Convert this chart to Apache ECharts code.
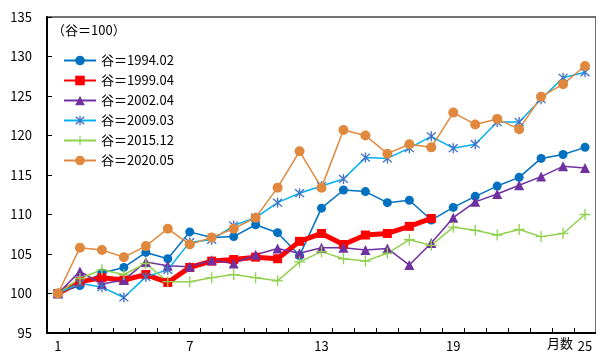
<!DOCTYPE html>
<html>
<head>
<meta charset="utf-8">
<script src="https://cdn.jsdelivr.net/npm/echarts@6/dist/echarts.min.js"></script>
<style>
html,body{margin:0;padding:0;background:#fff;}
#chart{width:596px;height:356px;}
</style>
</head>
<body>
<div id="chart"></div>
<script>
const months = ['1','2','3','4','5','6','7','8','9','10','11','12','13','14','15','16','17','18','19','20','21','22','23','24','25'];
const seriesNames = ['谷＝1994.02','谷＝1999.04','谷＝2002.04','谷＝2009.03','谷＝2015.12','谷＝2020.05'];
const d1994 = [100,101.0,102.6,103.3,105.2,104.4,107.8,107.1,107.2,108.7,107.7,104.8,110.8,113.1,112.9,111.5,111.8,109.3,110.9,112.3,113.6,114.7,117.1,117.6,118.5];
const d1999 = [100,101.5,102.0,101.7,102.4,101.4,103.3,104.1,104.3,104.6,104.4,106.6,107.6,106.2,107.4,107.6,108.5,109.5];
const d2002 = [100,102.8,101.2,101.7,104.0,103.5,103.4,104.2,103.8,104.9,105.7,105.1,105.8,105.8,105.5,105.7,103.6,106.4,109.6,111.6,112.6,113.7,114.8,116.1,115.9];
const d2009 = [100,101.3,100.8,99.5,102.1,103.0,106.5,106.8,108.6,109.6,111.5,112.7,113.6,114.5,117.2,117.1,118.4,119.9,118.4,118.9,121.7,121.7,124.6,127.3,128.0];
const d2015 = [100,101.9,103.0,102.4,103.8,101.5,101.5,102.0,102.4,102.0,101.6,104.0,105.3,104.4,104.1,105.1,106.8,106.1,108.4,108.0,107.4,108.1,107.2,107.6,110.0];
const d2020 = [100,105.8,105.5,104.6,106.0,108.2,106.2,107.1,108.2,109.6,113.4,118.0,113.4,120.7,120.0,117.7,118.9,118.5,122.9,121.4,122.1,120.8,124.9,126.5,128.8];
const yTicks = {min:95, max:135, interval:5};
const noteText = '（谷＝100）';
const xName = '月数';

const FONT = '"Noto Sans CJK JP", "Noto Sans", sans-serif';
const asterisk = 'path://M4.4 0 L5.6 0 L5.6 10 L4.4 10 Z M0.6 1.5 L1.5 0.6 L9.4 8.5 L8.5 9.4 Z M8.5 0.6 L9.4 1.5 L1.5 9.4 L0.6 8.5 Z';
const plus = 'path://M4.4 0 L5.6 0 L5.6 10 L4.4 10 Z M0 4.4 L10 4.4 L10 5.6 L0 5.6 Z';

function mk(name, data, color, symbol, size, width, symColor) {
  return {
    name: name, type: 'line', data: data,
    symbol: symbol, symbolSize: size, showSymbol: true,
    lineStyle: {color: color, width: width},
    itemStyle: {color: symColor || color, opacity: 1},
    emphasis: {disabled: true},
    z: 3
  };
}

const chart = echarts.init(document.getElementById('chart'), null, {renderer: 'canvas'});
chart.setOption({
  animation: false,
  backgroundColor: '#fff',
  textStyle: {fontFamily: FONT},
  grid: {left: 47, top: 17, right: -3, bottom: 23, show: true, borderColor: '#444', borderWidth: 1.5, backgroundColor: 'transparent'},
  legend: {
    orient: 'vertical', left: 58, top: 49,
    itemWidth: 32, itemHeight: 12, itemGap: 7,
    textStyle: {fontFamily: FONT, fontSize: 13, color: '#000'},
    data: seriesNames
  },
  graphic: [
    {type: 'text', left: 52, top: 24, style: {text: noteText, font: '13px ' + FONT, fill: '#000'}},
    {type: 'text', left: 547, top: 337, style: {text: xName, font: '13px ' + FONT, fill: '#000'}}
  ],
  xAxis: {
    type: 'category', data: months, boundaryGap: true,
    axisLine: {lineStyle: {color: '#000', width: 2}},
    axisTick: {show: true, inside: true, length: 5, interval: 0, lineStyle: {color: '#000', width: 1}},
    axisLabel: {interval: 5, color: '#000', fontSize: 13, margin: 7, fontFamily: FONT},
    splitLine: {show: false}
  },
  yAxis: {
    type: 'value', min: yTicks.min, max: yTicks.max, interval: yTicks.interval,
    axisLine: {show: true, lineStyle: {color: '#000', width: 2}},
    axisTick: {show: true, inside: true, length: 5, lineStyle: {color: '#000', width: 1}},
    axisLabel: {color: '#000', fontSize: 13, margin: 15, fontFamily: FONT},
    splitLine: {show: false}
  },
  series: [
    mk(seriesNames[0], d1994, '#0070C0', 'circle', 9, 1.5),
    mk(seriesNames[1], d1999, '#FF0000', 'rect', 9, 5),
    mk(seriesNames[2], d2002, '#7030A0', 'triangle', 10, 1.5),
    mk(seriesNames[3], d2009, '#00B0F0', asterisk, 10, 1.5, '#4472C4'),
    mk(seriesNames[4], d2015, '#92D050', plus, 11, 1.5),
    mk(seriesNames[5], d2020, '#E0893E', 'circle', 10, 1.5)
  ]
});
</script>
</body>
</html>
